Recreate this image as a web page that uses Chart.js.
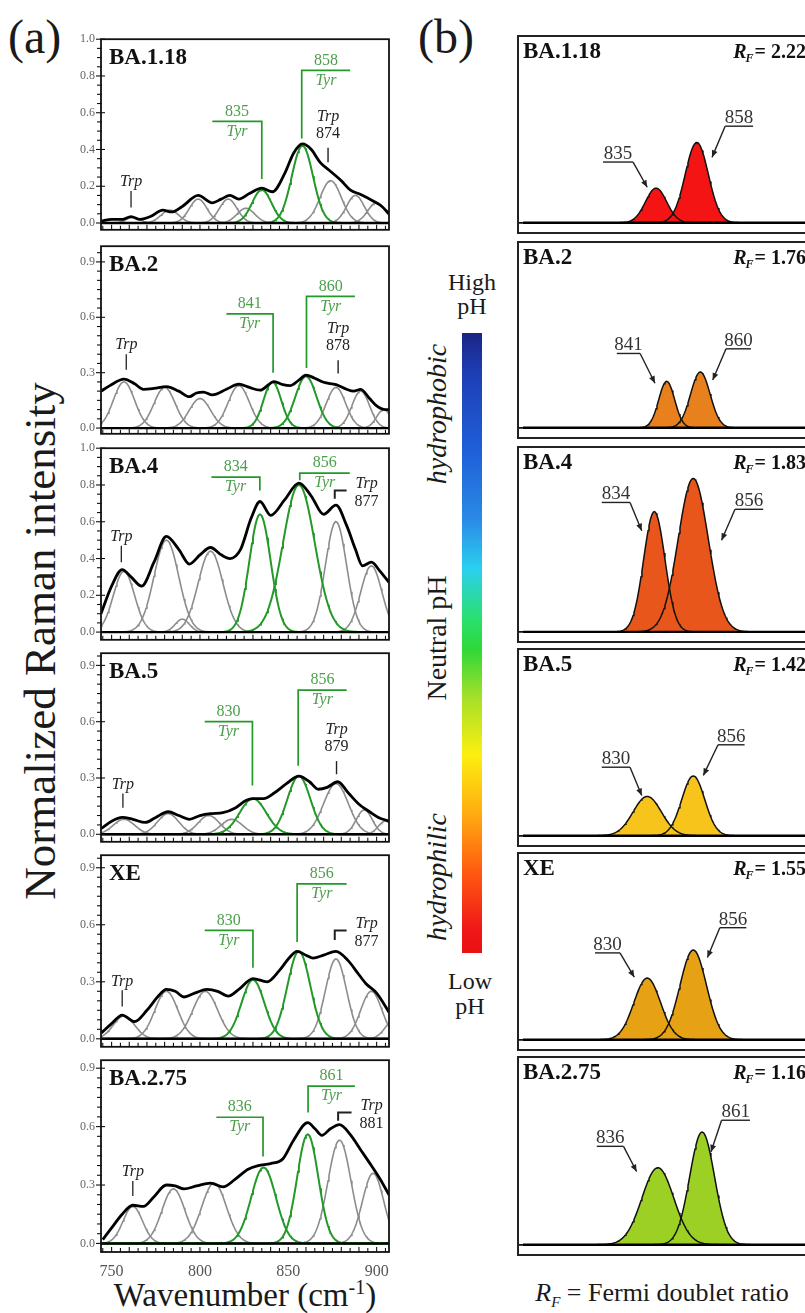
<!DOCTYPE html>
<html>
<head>
<meta charset="utf-8">
<title>Raman Tyr Fermi doublet</title>
<script src="https://cdn.jsdelivr.net/npm/chart.js@4.4.1/dist/chart.umd.min.js"></script>
<style>
  html, body { margin:0; padding:0; background:#fff; overflow:hidden; }
  #root { position:relative; width:805px; height:1313px; overflow:hidden; font-family:"Liberation Serif","Times New Roman",serif; color:#1a1a1a; }
  #root canvas { position:absolute; }
  .t { position:absolute; white-space:nowrap; line-height:1; }
</style>
</head>
<body>
<div id="root">
  <div class="t" style="left:8px;top:13px;font-size:48px;">(a)</div>
  <div class="t" style="left:418px;top:13px;font-size:48px;">(b)</div>
  <div class="t" style="left:40px;top:641px;font-size:45px;transform:translate(-50%,-50%) rotate(-90deg);">Normalized Raman intensity</div>
  <div class="t" style="left:245px;top:1279px;font-size:33px;transform:translateX(-50%);">Wavenumber (cm<sup style="font-size:20px;line-height:0;">-1</sup>)</div>
  <div class="t" style="left:662px;top:1280px;font-size:26px;transform:translateX(-50%);"><i>R</i><sub style="font-size:15px;line-height:0;"><i>F</i></sub> = Fermi doublet ratio</div>
  <div style="position:absolute;left:462px;top:333px;width:20px;height:620px;background:linear-gradient(to bottom,#1b2585 0%,#1d40b8 7%,#1f5fd8 19%,#2a8ae6 30%,#2ad0f0 38%,#2ae070 46%,#2ed838 51%,#a8e028 59%,#fcef10 68%,#ffb010 77%,#ff5a10 87%,#f01818 96%,#e81010 100%);"></div>
  <div class="t" style="left:472px;top:282px;font-size:24px;transform:translate(-50%,-50%);">High</div>
  <div class="t" style="left:472px;top:306px;font-size:24px;transform:translate(-50%,-50%);">pH</div>
  <div class="t" style="left:470px;top:981px;font-size:24px;transform:translate(-50%,-50%);">Low</div>
  <div class="t" style="left:470px;top:1006px;font-size:24px;transform:translate(-50%,-50%);">pH</div>
  <div class="t" style="left:437px;top:414px;font-size:28px;font-style:italic;transform:translate(-50%,-50%) rotate(-90deg);">hydrophobic</div>
  <div class="t" style="left:437px;top:638px;font-size:28px;transform:translate(-50%,-50%) rotate(-90deg);">Neutral pH</div>
  <div class="t" style="left:437px;top:877px;font-size:28px;font-style:italic;transform:translate(-50%,-50%) rotate(-90deg);">hydrophilic</div>
</div>
<script>
// ======================= DATA =======================
const variants = ['BA.1.18', 'BA.2', 'BA.4', 'BA.5', 'XE', 'BA.2.75'];
const fermiRatios = ['2.22', '1.76', '1.83', '1.42', '1.55', '1.16'];
const xTickLabels = [750, 800, 850, 900];
const trpPeaks = [874, 878, 877, 879, 877, 881];

const envX_BA118 = [744, 750, 756, 761, 766, 772, 779, 784, 790, 799, 807, 812, 817, 822, 828, 835, 841, 848, 853, 858, 863, 868, 874, 880, 885, 891, 898, 903, 907];
const envY_BA118 = [0.01, 0.02, 0.02, 0.035, 0.02, 0.035, 0.07, 0.06, 0.09, 0.15, 0.11, 0.13, 0.15, 0.13, 0.16, 0.19, 0.17, 0.27, 0.38, 0.43, 0.40, 0.33, 0.28, 0.23, 0.18, 0.155, 0.12, 0.09, 0.05];
const envX_BA2 = [744, 749, 757, 763, 768, 774, 781, 788, 794, 798, 802, 807, 815, 822, 828, 834, 842, 847, 851, 856, 860, 865, 870, 877, 883, 887, 891, 896, 900, 905, 907];
const envY_BA2 = [0.20, 0.23, 0.265, 0.24, 0.21, 0.215, 0.225, 0.20, 0.17, 0.19, 0.195, 0.18, 0.21, 0.238, 0.22, 0.205, 0.252, 0.235, 0.23, 0.26, 0.287, 0.27, 0.248, 0.235, 0.21, 0.20, 0.21, 0.16, 0.12, 0.10, 0.10];
const envX_BA4 = [744, 750, 756, 761, 767, 774, 781, 788, 794, 800, 806, 812, 817, 823, 829, 834, 840, 848, 856, 863, 870, 877, 883, 888, 892, 897, 902, 907];
const envY_BA4 = [0.10, 0.25, 0.34, 0.30, 0.25, 0.38, 0.52, 0.45, 0.37, 0.42, 0.46, 0.42, 0.40, 0.45, 0.62, 0.71, 0.635, 0.72, 0.81, 0.74, 0.64, 0.69, 0.58, 0.45, 0.36, 0.38, 0.33, 0.27];
const envX_BA5 = [744, 750, 756, 762, 769, 775, 782, 788, 794, 800, 806, 813, 820, 826, 830, 836, 842, 849, 856, 862, 867, 872, 878, 884, 890, 896, 901, 907];
const envY_BA5 = [0.03, 0.07, 0.09, 0.08, 0.063, 0.09, 0.12, 0.10, 0.08, 0.10, 0.11, 0.115, 0.14, 0.18, 0.19, 0.19, 0.22, 0.27, 0.31, 0.28, 0.24, 0.25, 0.28, 0.22, 0.16, 0.12, 0.09, 0.07];
const envX_XE = [744, 750, 756, 763, 770, 776, 781, 786, 791, 797, 804, 810, 816, 822, 830, 838, 845, 850, 855, 860, 864, 870, 877, 884, 889, 894, 900, 907];
const envY_XE = [0.03, 0.08, 0.125, 0.09, 0.15, 0.22, 0.26, 0.25, 0.22, 0.24, 0.26, 0.25, 0.225, 0.26, 0.317, 0.30, 0.36, 0.42, 0.46, 0.44, 0.425, 0.44, 0.46, 0.41, 0.35, 0.29, 0.24, 0.14];
const envX_BA275 = [745, 750, 756, 762, 768, 774, 781, 786, 791, 798, 806, 813, 820, 827, 833, 840, 847, 853, 861, 865, 869, 874, 879, 885, 891, 897, 902, 907];
const envY_BA275 = [0.02, 0.08, 0.15, 0.196, 0.19, 0.24, 0.30, 0.295, 0.28, 0.295, 0.31, 0.29, 0.33, 0.38, 0.40, 0.41, 0.435, 0.53, 0.62, 0.59, 0.555, 0.59, 0.61, 0.56, 0.48, 0.40, 0.33, 0.25];

// fitted bands [center cm-1, height, width(sigma)]
const grayBands_BA118 = [[762, 0.03, 4], [783, 0.07, 5], [799, 0.13, 5], [816, 0.13, 5], [826, 0.08, 5], [874, 0.23, 6], [888, 0.15, 5], [900, 0.11, 5]];
const tyrBands_BA118 = [[835, 0.18, 5.5], [858, 0.42, 6]];
const grayBands_BA2 = [[757, 0.25, 6], [780, 0.22, 6], [800, 0.16, 6], [822, 0.23, 6], [877, 0.22, 5.5], [891, 0.20, 5], [904, 0.10, 4]];
const tyrBands_BA2 = [[841, 0.25, 5], [860, 0.28, 6]];
const grayBands_BA4 = [[757, 0.33, 6], [781, 0.50, 7], [790, 0.07, 4], [806, 0.44, 7], [877, 0.60, 6], [897, 0.36, 6]];
const tyrBands_BA4 = [[834, 0.64, 6], [856, 0.80, 9]];
const grayBands_BA5 = [[757, 0.08, 6], [782, 0.11, 6], [805, 0.10, 6], [818, 0.08, 6], [877, 0.27, 7], [893, 0.13, 4.5], [905, 0.07, 4]];
const tyrBands_BA5 = [[830, 0.19, 7.5], [856, 0.31, 6.5]];
const grayBands_XE = [[757, 0.12, 6], [781, 0.25, 6.5], [803, 0.25, 7], [877, 0.42, 6], [897, 0.25, 6], [910, 0.10, 5]];
const tyrBands_XE = [[830, 0.31, 6.5], [856, 0.46, 6.5]];
const grayBands_BA275 = [[762, 0.19, 5.5], [785, 0.28, 6.5], [808, 0.31, 7], [879, 0.53, 6.5], [898, 0.36, 6]];
const tyrBands_BA275 = [[836, 0.39, 7], [861, 0.56, 6]];

// panel (b) Tyr doublets [center, height, width]
const doublet_BA118 = [[835, 0.185, 6], [858, 0.43, 6.5]];
const doublet_BA2 = [[841, 0.25, 4.5], [860, 0.30, 5.5]];
const doublet_BA4 = [[834, 0.65, 6], [856, 0.83, 8.5]];
const doublet_BA5 = [[830, 0.21, 8], [856, 0.32, 6.5]];
const doublet_XE = [[830, 0.33, 7.5], [856, 0.48, 7.5]];
const doublet_BA275 = [[836, 0.41, 9], [861, 0.60, 7]];

// ======================= LAYOUT / STYLE =======================
const envX = [envX_BA118, envX_BA2, envX_BA4, envX_BA5, envX_XE, envX_BA275];
const envY = [envY_BA118, envY_BA2, envY_BA4, envY_BA5, envY_XE, envY_BA275];
const grayBands = [grayBands_BA118, grayBands_BA2, grayBands_BA4, grayBands_BA5, grayBands_XE, grayBands_BA275];
const tyrBands = [tyrBands_BA118, tyrBands_BA2, tyrBands_BA4, tyrBands_BA5, tyrBands_XE, tyrBands_BA275];
const doublets = [doublet_BA118, doublet_BA2, doublet_BA4, doublet_BA5, doublet_XE, doublet_BA275];
const doubletColors = ['#f41414', '#e8801e', '#e8561c', '#f6c41a', '#e6a214', '#9cd024'];

const SERIF = '"Liberation Serif", "Times New Roman", serif';
const GREEN_LINE = '#23992a';
const GREEN_TEXT = '#4c9e4c';
const GRAY_LINE = '#8c8c8c';

const layoutA = [
  {top: 36, bottom: 233, ymin: -0.037, ymax: 1.0, major: 0.2},
  {top: 243, bottom: 437, ymin: -0.031, ymax: 0.985, major: 0.3},
  {top: 445, bottom: 643, ymin: -0.042, ymax: 1.0, major: 0.2},
  {top: 650, bottom: 845, ymin: -0.04, ymax: 0.965, major: 0.3},
  {top: 852, bottom: 1050, ymin: -0.042, ymax: 0.966, major: 0.3},
  {top: 1057, bottom: 1252, ymin: -0.044, ymax: 0.941, major: 0.3}
];
// annotation anchors in data units
const annA = [
  {trpL: {x: 761, top: 0.174, bot: 0.084},
   tyr: [{xV: 835, hY: 0.553, xEnd: 807, bot: 0.24}, {xV: 857.6, hY: 0.83, xEnd: 885, bot: 0.46}],
   trpR: {type: 'stack', x: 872.5, top: 0.41, bot: 0.33}},
  {trpL: {x: 758.3, top: 0.40, bot: 0.316},
   tyr: [{xV: 841.4, hY: 0.618, xEnd: 815, bot: 0.30}, {xV: 860.3, hY: 0.713, xEnd: 887.7, bot: 0.325}],
   trpR: {type: 'stack', x: 878.2, top: 0.368, bot: 0.295}},
  {trpL: {x: 755.5, top: 0.47, bot: 0.38},
   tyr: [{xV: 833.9, hY: 0.843, xEnd: 806.5, bot: 0.77}, {xV: 856.5, hY: 0.864, xEnd: 884.8, bot: 0.826}],
   trpR: {type: 'bracket', xV: 876.3, hY: 0.77, xEnd: 883, bot: 0.725}},
  {trpL: {x: 756.4, top: 0.218, bot: 0.141},
   tyr: [{xV: 829.7, hY: 0.60, xEnd: 802.7, bot: 0.26}, {xV: 855.6, hY: 0.768, xEnd: 883, bot: 0.365}],
   trpR: {type: 'stack', x: 877.3, top: 0.39, bot: 0.32}},
  {trpL: {x: 756, top: 0.255, bot: 0.17},
   tyr: [{xV: 830, hY: 0.57, xEnd: 802.7, bot: 0.374}, {xV: 855, hY: 0.815, xEnd: 883, bot: 0.51}],
   trpR: {type: 'bracket', xV: 876.3, hY: 0.57, xEnd: 883, bot: 0.52}},
  {trpL: {x: 762, top: 0.32, bot: 0.244},
   tyr: [{xV: 835.7, hY: 0.648, xEnd: 809.3, bot: 0.446}, {xV: 861.2, hY: 0.808, xEnd: 887.7, bot: 0.673}],
   trpR: {type: 'bracket', xV: 878.2, hY: 0.673, xEnd: 885.8, bot: 0.63}}
];
const layoutB = [
  {top: 36, bottom: 233}, {top: 242, bottom: 438}, {top: 447, bottom: 642},
  {top: 649, bottom: 846}, {top: 853, bottom: 1050}, {top: 1057, bottom: 1255}
];
const annB = [
  {L: {ul: [805, 822], ulY: 0.325, tip: [830, 0.19]}, R: {ul: [874, 889.8], ulY: 0.517, tip: [866.6, 0.35]}},
  {L: {ul: [812.8, 826], ulY: 0.40, tip: [834.4, 0.24]}, R: {ul: [874.5, 888.6], ulY: 0.425, tip: [867, 0.257]}},
  {L: {ul: [804.3, 820.3], ulY: 0.70, tip: [826.9, 0.547]}, R: {ul: [879.6, 895.5], ulY: 0.663, tip: [872, 0.495]}},
  {L: {ul: [804.3, 820.3], ulY: 0.367, tip: [826.9, 0.215]}, R: {ul: [870, 885], ulY: 0.487, tip: [861.7, 0.323]}},
  {L: {ul: [800.5, 814.6], ulY: 0.465, tip: [822.7, 0.335]}, R: {ul: [871, 886], ulY: 0.60, tip: [864, 0.44]}},
  {L: {ul: [801.5, 816.6], ulY: 0.524, tip: [824, 0.39]}, R: {ul: [872, 888], ulY: 0.663, tip: [866, 0.494]}}
];

// ======================= HELPERS =======================
const root = document.getElementById('root');
function bandPoints(band, x0, x1, step) {
  const [c, h, s] = band;
  const pts = [];
  for (let x = x0; x <= x1 + 1e-9; x += step) {
    pts.push({x: x, y: h * Math.exp(-((x - c) * (x - c)) / (2 * s * s))});
  }
  return pts;
}
function isMajor(v, m) { return Math.abs(v / m - Math.round(v / m)) < 1e-6; }
function line(ctx, x0, y0, x1, y1) { ctx.beginPath(); ctx.moveTo(x0, y0); ctx.lineTo(x1, y1); ctx.stroke(); }
function arrow(ctx, x0, y0, x1, y1) {
  line(ctx, x0, y0, x1, y1);
  const a = Math.atan2(y1 - y0, x1 - x0), L = 7, W = 3;
  ctx.beginPath();
  ctx.moveTo(x1, y1);
  ctx.lineTo(x1 - L * Math.cos(a) + W * Math.sin(a), y1 - L * Math.sin(a) - W * Math.cos(a));
  ctx.lineTo(x1 - L * Math.cos(a) - W * Math.sin(a), y1 - L * Math.sin(a) + W * Math.cos(a));
  ctx.closePath(); ctx.fill();
}

// ======================= PANEL (a) PLUGIN =======================
const plugA = {
  id: 'plugA',
  afterDatasetsDraw(chart, args, o) {
    const {ctx, chartArea: a, scales: {y}} = chart;
    ctx.save();
    ctx.strokeStyle = '#000'; ctx.lineWidth = 2.4;
    const y0 = y.getPixelForValue(0);
    line(ctx, a.left, y0, a.right, y0);
    ctx.restore();
  },
  afterDraw(chart, args, o) {
    const {ctx, chartArea: a, scales: {x, y}} = chart;
    ctx.save();
    ctx.strokeStyle = '#111'; ctx.lineWidth = 1.8;
    ctx.strokeRect(a.left, a.top, a.right - a.left, a.bottom - a.top);
    ctx.lineWidth = 1.1;
    for (const t of x.ticks) {
      if (!isMajor(t.value, 5)) continue;
      const px = x.getPixelForValue(t.value);
      line(ctx, px, a.bottom, px, a.bottom - (isMajor(t.value, 10) ? 5 : 4));
    }
    for (const t of y.ticks) {
      const py = y.getPixelForValue(t.value);
      const mj = isMajor(t.value, o.major);
      line(ctx, a.left - (mj ? 5 : 4), py, a.left + (mj ? 4 : 1), py);
    }
    // title
    ctx.fillStyle = '#111'; ctx.font = 'bold 23px ' + SERIF; ctx.textAlign = 'left'; ctx.textBaseline = 'alphabetic';
    ctx.fillText(o.title, a.left + 8, a.top + 25);
    const an = o.ann;
    // Trp left
    ctx.strokeStyle = '#222'; ctx.fillStyle = '#222'; ctx.lineWidth = 1.3;
    {
      const px = x.getPixelForValue(an.trpL.x), t = y.getPixelForValue(an.trpL.top), b = y.getPixelForValue(an.trpL.bot);
      line(ctx, px, t, px, b);
      ctx.font = 'italic 16px ' + SERIF; ctx.textAlign = 'center'; ctx.textBaseline = 'middle';
      ctx.fillText('Trp', px, t - 9);
    }
    // Tyr brackets
    an.tyr.forEach((b, k) => {
      const xv = x.getPixelForValue(b.xV), xe = x.getPixelForValue(b.xEnd);
      const hy = y.getPixelForValue(b.hY), by = y.getPixelForValue(b.bot);
      ctx.strokeStyle = GREEN_LINE; ctx.lineWidth = 1.7;
      ctx.beginPath(); ctx.moveTo(xe, hy); ctx.lineTo(xv, hy); ctx.lineTo(xv, by); ctx.stroke();
      const cx = (xv + xe) / 2;
      ctx.fillStyle = GREEN_TEXT; ctx.textAlign = 'center'; ctx.textBaseline = 'middle';
      ctx.font = '16px ' + SERIF; ctx.fillText(String(o.tyr[k][0]), cx, hy - 10);
      ctx.font = 'italic 16px ' + SERIF; ctx.fillText('Tyr', cx, hy + 10);
    });
    // Trp right
    ctx.strokeStyle = '#222'; ctx.fillStyle = '#222'; ctx.lineWidth = 1.4;
    const r = an.trpR;
    if (r.type === 'stack') {
      const px = x.getPixelForValue(r.x), t = y.getPixelForValue(r.top), b = y.getPixelForValue(r.bot);
      line(ctx, px, t, px, b);
      ctx.textAlign = 'center'; ctx.textBaseline = 'middle';
      ctx.font = '16px ' + SERIF; ctx.fillText(String(o.trp), px, t - 14);
      ctx.font = 'italic 16px ' + SERIF; ctx.fillText('Trp', px, t - 31);
    } else {
      const xv = x.getPixelForValue(r.xV), xe = x.getPixelForValue(r.xEnd);
      const hy = y.getPixelForValue(r.hY), by = y.getPixelForValue(r.bot);
      ctx.lineWidth = 2;
      ctx.beginPath(); ctx.moveTo(xe, hy); ctx.lineTo(xv, hy); ctx.lineTo(xv, by); ctx.stroke();
      ctx.textAlign = 'center'; ctx.textBaseline = 'middle';
      ctx.font = 'italic 16px ' + SERIF; ctx.fillText('Trp', xe + 20, hy - 7);
      ctx.font = '16px ' + SERIF; ctx.fillText(String(o.trp), xe + 20, hy + 11);
    }
    ctx.restore();
  }
};

function makeChartA(i) {
  const L = layoutA[i];
  const isLast = i === layoutA.length - 1;
  const padTop = 10, padBottom = isLast ? 0 : 10, xAxisH = isLast ? 30 : 0;
  const cLeft = 50, cRight = 396, frameLeft = 101, frameRight = 389;
  const canvas = document.createElement('canvas');
  canvas.width = cRight - cLeft;
  canvas.height = L.bottom - L.top + padTop + padBottom + xAxisH;
  canvas.style.left = cLeft + 'px';
  canvas.style.top = (L.top - padTop) + 'px';
  root.appendChild(canvas);
  const datasets = [];
  datasets.push({
    data: envX[i].map((v, k) => ({x: v, y: envY[i][k]})),
    borderColor: '#000', borderWidth: 2.8, pointRadius: 0, cubicInterpolationMode: 'monotone', fill: false, order: 0
  });
  tyrBands[i].forEach(b => datasets.push({
    data: bandPoints(b, 744, 907, 0.5), borderColor: GREEN_LINE, borderWidth: 2, pointRadius: 0, fill: false, order: 1
  }));
  grayBands[i].forEach(b => datasets.push({
    data: bandPoints(b, 744, 907, 0.5), borderColor: GRAY_LINE, borderWidth: 1.6, pointRadius: 0, fill: false, order: 2
  }));
  new Chart(canvas, {
    type: 'line',
    data: {datasets},
    options: {
      responsive: false, animation: false, devicePixelRatio: 1,
      layout: {padding: {top: padTop, bottom: padBottom, left: 0, right: cRight - frameRight}},
      plugins: {legend: {display: false}, tooltip: {enabled: false},
        plugA: {major: L.major, title: variants[i], ann: annA[i], tyr: tyrBands[i], trp: trpPeaks[i]}},
      scales: {
        x: {type: 'linear', min: 744, max: 907,
          grid: {display: false, drawTicks: false}, border: {display: false},
          ticks: {display: isLast, stepSize: 5, includeBounds: false, autoSkip: false, maxRotation: 0, padding: 10,
            font: {family: SERIF, size: 16}, color: '#555',
            callback: v => (xTickLabels.indexOf(Math.round(v)) >= 0 && isMajor(v, 50)) ? String(Math.round(v)) : ''},
          afterFit: s => { s.height = xAxisH; }},
        y: {type: 'linear', min: L.ymin, max: L.ymax,
          grid: {display: false, drawTicks: false}, border: {display: false},
          ticks: {stepSize: 0.05, includeBounds: false, autoSkip: false, padding: 6,
            font: {family: SERIF, size: 12}, color: '#666',
            callback: v => isMajor(v, L.major) ? v.toFixed(1) : ''},
          afterFit: s => { s.width = frameLeft - cLeft; }}
      }
    },
    plugins: [plugA]
  });
}

// ======================= PANEL (b) PLUGIN =======================
const plugB = {
  id: 'plugB',
  afterDatasetsDraw(chart, args, o) {
    const {ctx, chartArea: a, scales: {y}} = chart;
    ctx.save();
    ctx.strokeStyle = '#000'; ctx.lineWidth = 2.4;
    const y0 = y.getPixelForValue(0);
    line(ctx, a.left + 5, y0, a.right, y0);
    ctx.restore();
  },
  afterDraw(chart, args, o) {
    const {ctx, chartArea: a, scales: {x, y}} = chart;
    ctx.save();
    ctx.strokeStyle = '#222'; ctx.lineWidth = 2;
    ctx.strokeRect(a.left, a.top, a.right - a.left, a.bottom - a.top);
    ctx.fillStyle = '#111'; ctx.textBaseline = 'alphabetic'; ctx.textAlign = 'left';
    ctx.font = 'bold 23px ' + SERIF;
    ctx.fillText(o.title, a.left + 5, a.top + 22);
    // R_F = value (right aligned)
    const fR = 'bold italic 20px ' + SERIF, fF = 'bold italic 12px ' + SERIF, fV = 'bold 20px ' + SERIF;
    const sV = '= ' + o.rf;
    ctx.font = fR; const wR = ctx.measureText('R').width;
    ctx.font = fF; const wF = ctx.measureText('F').width;
    ctx.font = fV; const wV = ctx.measureText(sV).width;
    let xs = 806 - (chart.canvas.offsetLeft) - (wR + wF + wV);
    const by = a.top + 22;
    ctx.font = fR; ctx.fillText('R', xs, by); xs += wR;
    ctx.font = fF; ctx.fillText('F', xs - 1, by + 4); xs += wF;
    ctx.font = fV; ctx.fillText(sV, xs, by);
    // peak labels with leaders
    ctx.strokeStyle = '#222'; ctx.fillStyle = '#222'; ctx.lineWidth = 1.4;
    ['L', 'R'].forEach((side, k) => {
      const lb = o.ann[side];
      const x0 = x.getPixelForValue(lb.ul[0]), x1 = x.getPixelForValue(lb.ul[1]), uy = y.getPixelForValue(lb.ulY);
      line(ctx, x0, uy, x1, uy);
      const sx = side === 'L' ? x1 : x0;
      arrow(ctx, sx, uy, x.getPixelForValue(lb.tip[0]), y.getPixelForValue(lb.tip[1]));
      ctx.font = '19px ' + SERIF; ctx.textAlign = 'center'; ctx.textBaseline = 'alphabetic';
      ctx.fillStyle = '#333';
      ctx.fillText(String(o.bands[k][0]), (x0 + x1) / 2, uy - 3);
      ctx.fillStyle = '#222';
    });
    ctx.restore();
  }
};

function makeChartB(i) {
  const L = layoutB[i];
  const cLeft = 508, padL = 10, cWidth = 312, pad = 4;
  const canvas = document.createElement('canvas');
  canvas.width = cWidth;
  canvas.height = L.bottom - L.top + 2 * pad;
  canvas.style.left = cLeft + 'px';
  canvas.style.top = (L.top - pad) + 'px';
  root.appendChild(canvas);
  const col = doubletColors[i];
  const datasets = [];
  doublets[i].forEach((b, k) => datasets.push({
    data: bandPoints(b, 757, 928, 0.5), borderColor: '#111', borderWidth: 1.5, pointRadius: 0, fill: false, order: 0
  }));
  doublets[i].forEach((b, k) => datasets.push({
    data: bandPoints(b, 757, 928, 0.5), borderWidth: 0, borderColor: 'rgba(0,0,0,0)', backgroundColor: col,
    pointRadius: 0, fill: 'origin', order: 2 - k
  }));
  new Chart(canvas, {
    type: 'line',
    data: {datasets},
    options: {
      responsive: false, animation: false, devicePixelRatio: 1,
      layout: {padding: {top: pad, bottom: pad, left: padL, right: 0}},
      plugins: {legend: {display: false}, tooltip: {enabled: false},
        plugB: {title: variants[i], rf: fermiRatios[i], ann: annB[i], bands: doublets[i]}},
      scales: {
        x: {type: 'linear', min: 757, max: 927.6, display: false},
        y: {type: 'linear', min: -0.055, max: 1.0, display: false}
      }
    },
    plugins: [plugB]
  });
}

for (let i = 0; i < variants.length; i++) { makeChartA(i); makeChartB(i); }
</script>
</body>
</html>
